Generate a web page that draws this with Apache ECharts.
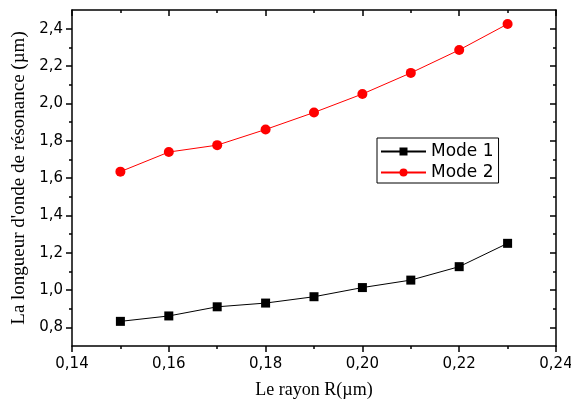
<!DOCTYPE html>
<html>
<head>
<meta charset="utf-8">
<script src="https://cdn.jsdelivr.net/npm/echarts@6/dist/echarts.min.js"></script>
<style>
  html, body { margin: 0; padding: 0; background: #fff; }
  #main { width: 571px; height: 400px; }
</style>
</head>
<body>
<div id="main"></div>
<script>
// rayon R (µm)
var radius = [0.15, 0.16, 0.17, 0.18, 0.19, 0.20, 0.21, 0.22, 0.23];
// longueur d'onde de résonance (µm)
var mode1 = [0.832, 0.861, 0.910, 0.930, 0.964, 1.013, 1.053, 1.125, 1.250];
var mode2 = [1.634, 1.739, 1.776, 1.860, 1.951, 2.050, 2.163, 2.286, 2.425];

// graduations
var xLabels = [0.14, 0.16, 0.18, 0.20, 0.22, 0.24];
var xMinor = [0.15, 0.17, 0.19, 0.21, 0.23];
var yLabels = [0.8, 1.0, 1.2, 1.4, 1.6, 1.8, 2.0, 2.2, 2.4];
var yMinor = [0.9, 1.1, 1.3, 1.5, 1.7, 1.9, 2.1, 2.3];

var chart = echarts.init(document.getElementById('main'));

function pairs(xs, ys) {
	var out = [];
	for (var i = 0; i < xs.length; i++) {
		out.push([xs[i], ys[i]]);
	}
	return out;
}

function comma(v, d) {
	return v.toFixed(d).replace('.', ',');
}

var lineStyle = { color: '#000', width: 1.5 };
var labelFont = { fontFamily: 'DejaVu Sans', fontSize: 15, color: '#000' };

// un axe = trait + graduations majeures ; un autre, muet, pour les mineures
function xAx(pos, ticks, len, inside, labels, name) {
	return {
		type: 'value', position: pos, min: 0.14, max: 0.24,
		name: name || '', nameLocation: 'middle', nameGap: 35,
		nameTextStyle: { fontFamily: 'Liberation Serif', fontSize: 18, color: '#000' },
		axisLine: { show: len === 6, onZero: false, lineStyle: lineStyle },
		axisTick: { show: true, inside: inside, length: len, customValues: ticks, lineStyle: lineStyle },
		axisLabel: labels ? Object.assign({ margin: 11, customValues: xLabels, formatter: function (v) { return comma(v, 2); } }, labelFont) : { show: false },
		splitLine: { show: false }
	};
}

function yAx(pos, ticks, len, inside, labels, name) {
	return {
		type: 'value', position: pos, min: 0.7, max: 2.5,
		name: name || '', nameLocation: 'middle', nameGap: 37,
		nameTextStyle: { fontFamily: 'Liberation Serif', fontSize: 19, color: '#000' },
		axisLine: { show: len === 6, onZero: false, lineStyle: lineStyle },
		axisTick: { show: true, inside: inside, length: len, customValues: ticks, lineStyle: lineStyle },
		axisLabel: labels ? Object.assign({ margin: 9, customValues: yLabels, formatter: function (v) { return comma(v, 1); } }, labelFont) : { show: false },
		splitLine: { show: false }
	};
}

var option = {
	animation: false,
	backgroundColor: '#fff',
	grid: { left: 72, right: 15, top: 10, bottom: 54, outerBoundsMode: 'none', containLabel: false },
	xAxis: [
		xAx('bottom', xLabels, 6, false, true, 'Le rayon R(µm)'),
		xAx('bottom', xMinor, 3, false, false),
		xAx('top', xLabels, 6, true, false),
		xAx('top', xMinor, 3, true, false)
	],
	yAxis: [
		yAx('left', yLabels, 6, false, true, "La longueur d'onde de résonance (µm)"),
		yAx('left', yMinor, 3, false, false),
		yAx('right', yLabels, 6, true, false),
		yAx('right', yMinor, 3, true, false)
	],
	legend: {
		left: 377, top: 138,
		orient: 'vertical',
		padding: [5, 5, 2, 3],
		itemWidth: 45, itemHeight: 10, itemGap: 4,
		borderColor: '#000', borderWidth: 1,
		textStyle: { fontFamily: 'DejaVu Sans', fontSize: 17, color: '#000', lineHeight: 17 },
		data: ['Mode 1', 'Mode 2']
	},
	series: [
		{
			name: 'Mode 1', type: 'line',
			data: pairs(radius, mode1),
			symbol: 'rect', symbolSize: 9,
			itemStyle: { color: '#000' },
			lineStyle: { color: '#000', width: 1 }
		},
		{
			name: 'Mode 2', type: 'line',
			data: pairs(radius, mode2),
			symbol: 'circle', symbolSize: 10,
			itemStyle: { color: '#ff0000' },
			lineStyle: { color: '#ff0000', width: 1 }
		}
	]
};

chart.setOption(option);
</script>
</body>
</html>
